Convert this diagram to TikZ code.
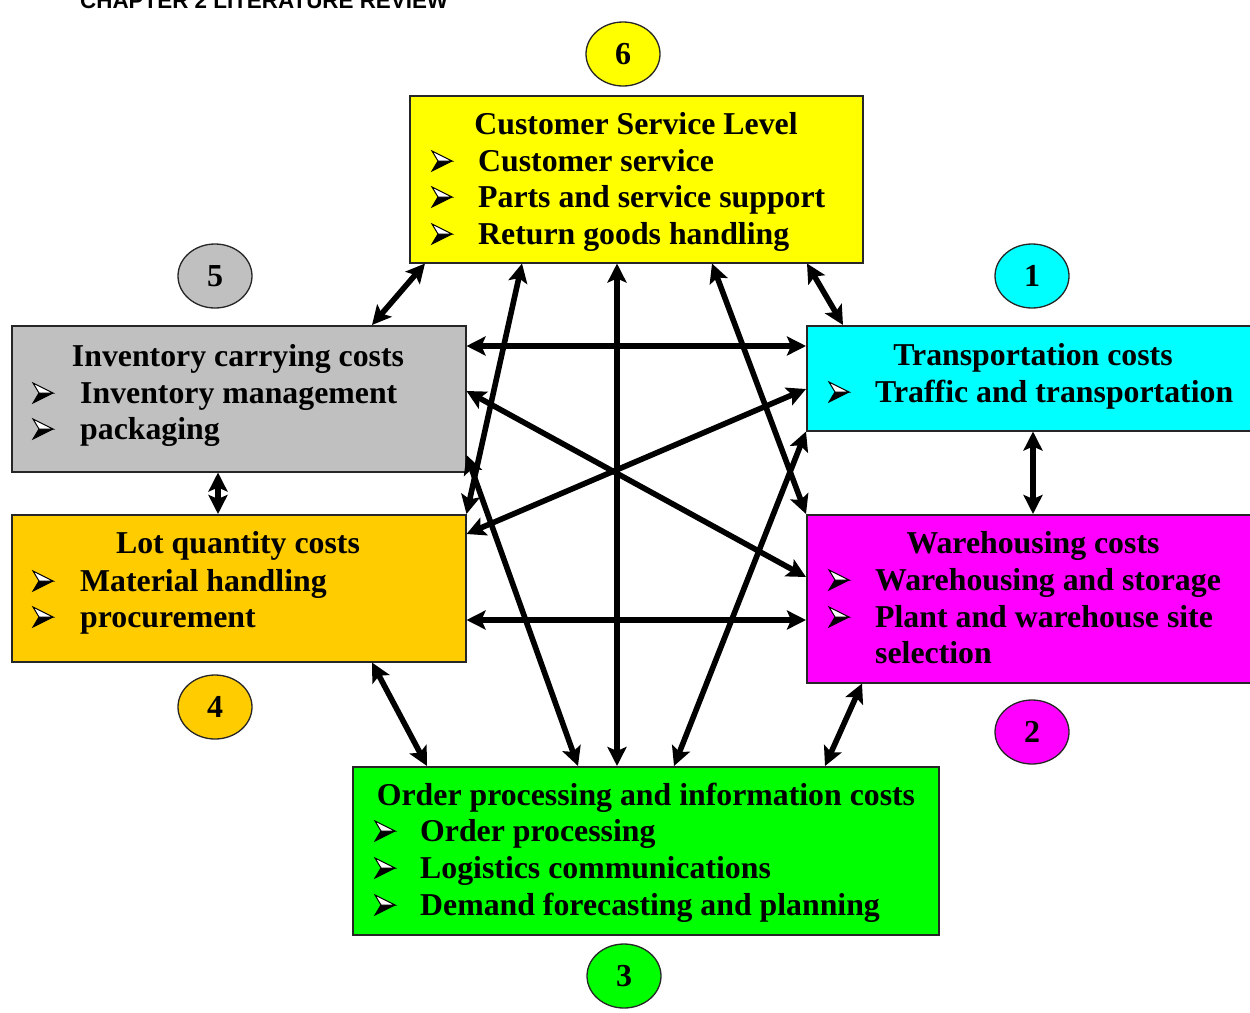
\documentclass[tikz,border=0pt]{standalone}
\usepackage{fontspec}
\setmainfont{Liberation Serif}
\newfontfamily\headfont{Liberation Sans}
\usetikzlibrary{arrows.meta,calc,shapes.geometric}

\definecolor{cslyellow}{HTML}{FFFF00}
\definecolor{invgray}{HTML}{C0C0C0}
\definecolor{trncyan}{HTML}{00FFFF}
\definecolor{lotorange}{HTML}{FFCC00}
\definecolor{whmagenta}{HTML}{FF00FF}
\definecolor{ordgreen}{HTML}{00FF00}

\tikzset{
  box/.style={draw=black!85, line width=1.5pt, rectangle, inner sep=0pt, anchor=north west},
  num/.style={draw=black!85, line width=1.3pt, ellipse, minimum width=74pt, minimum height=64pt,
              inner sep=0pt, font=\fontsize{32}{34}\selectfont\bfseries},
  title/.style={anchor=base, inner sep=0pt, font=\fontsize{31.8}{37}\selectfont\bfseries},
  item/.style={anchor=base west, inner sep=0pt, font=\fontsize{31.8}{37}\selectfont\bfseries},
  dbl/.style={line width=5.6pt,
    {Stealth[length=19pt,width=19pt,inset=4pt]}-{Stealth[length=19pt,width=19pt,inset=4pt]}},
  bul/.pic={
    \fill[black] (6,0) -- (20,0) -- (0,10) -- cycle;
    \draw[line width=1pt, fill=white, line join=miter] (0,-10) -- (20,0) -- (6,0) -- cycle;
    \draw[line width=1pt, line join=miter] (6,0) -- (0,10) -- (20,0);
  }
}

\begin{document}
\begin{tikzpicture}[x=1pt, y=-1pt]
\path[use as bounding box] (0,0) rectangle (1250,1012);
\clip (0,0) rectangle (1250,1012);

% running page header, cut at the top edge
\node[anchor=base west, inner sep=0pt, font=\headfont\fontsize{22.4}{24}\selectfont\bfseries] (head) at (80,8)
  {CHAPTER 2 LITERATURE REVIEW};

% cost boxes
\node[box, fill=cslyellow, minimum width=453pt, minimum height=167pt] (csl) at (409,95) {};
\node[box, fill=invgray, minimum width=454pt, minimum height=146pt] (inv) at (11,325) {};
\node[box, fill=lotorange, minimum width=454pt, minimum height=147pt] (lot) at (11,514) {};
\node[box, fill=trncyan, minimum width=454pt, minimum height=105pt] (trn) at (806,325) {};
\node[box, fill=whmagenta, minimum width=454pt, minimum height=168pt] (wh) at (806,514) {};
\node[box, fill=ordgreen, minimum width=586pt, minimum height=168pt] (ord) at (352,766) {};

% numbered ellipses
\node[num, fill=trncyan] (c1) at (1032,276) {1};
\node[num, fill=whmagenta] (c2) at (1032,732) {2};
\node[num, fill=ordgreen] (c3) at (624,976) {3};
\node[num, fill=lotorange] (c4) at (215,707) {4};
\node[num, fill=invgray] (c5) at (215,276) {5};
\node[num, fill=cslyellow] (c6) at (623,54) {6};

% box texts: customer service level
\node[title] (cslt) at (636,134) {Customer Service Level};
\pic at (432,161) {bul};
\node[item] (csl1) at (478,171) {Customer service};
\pic at (432,197) {bul};
\node[item] (csl2) at (478,207) {Parts and service support};
\pic at (432,234) {bul};
\node[item] (csl3) at (478,244) {Return goods handling};

% inventory carrying costs
\node[title] (invt) at (238,366) {Inventory carrying costs};
\pic at (33,393) {bul};
\node[item] (inv1) at (80,403) {Inventory management};
\pic at (33,429) {bul};
\node[item] (inv2) at (80,439) {packaging};

% lot quantity costs
\node[title] (lott) at (238,553) {Lot quantity costs};
\pic at (33,581) {bul};
\node[item] (lot1) at (80,591) {Material handling};
\pic at (33,617) {bul};
\node[item] (lot2) at (80,627) {procurement};

% transportation costs
\node[title] (trnt) at (1033,365) {Transportation costs};
\pic at (829,392) {bul};
\node[item] (trn1) at (875,402) {Traffic and transportation};

% warehousing costs
\node[title] (wht) at (1033,553) {Warehousing costs};
\pic at (829,580) {bul};
\node[item] (wh1) at (875,590) {Warehousing and storage};
\pic at (829,617) {bul};
\node[item] (wh2) at (875,627) {Plant and warehouse site};
\node[item] (wh3) at (875,663) {selection};

% order processing and information costs
\node[title] (ordt) at (646,805) {Order processing and information costs};
\pic at (375,831) {bul};
\node[item] (ord1) at (420,841) {Order processing};
\pic at (375,868) {bul};
\node[item] (ord2) at (420,878) {Logistics communications};
\pic at (375,905) {bul};
\node[item] (ord3) at (420,915) {Demand forecasting and planning};

% two-way links between the cost areas
\draw[dbl] ($(csl.south west)+(16,0)$) -- ($(inv.north west)+(361,0)$);
\draw[dbl] ($(csl.south west)+(113,0)$) -- (lot.north east);
\draw[dbl] ($(csl.south west)+(208,0)$) -- ($(ord.north west)+(265,0)$);
\draw[dbl] ($(csl.south west)+(303,0)$) -- (wh.north west);
\draw[dbl] ($(csl.south west)+(398,0)$) -- ($(trn.north west)+(37,0)$);
\draw[dbl] ($(inv.north east)+(0,21)$) -- ($(trn.north west)+(0,21)$);
\draw[dbl] ($(inv.north east)+(0,66)$) -- ($(wh.north west)+(0,63)$);
\draw[dbl] ($(inv.north east)+(0,130)$) -- ($(ord.north west)+(226,0)$);
\draw[dbl] ($(lot.north east)+(0,20)$) -- ($(trn.north west)+(0,64)$);
\draw[dbl] ($(lot.north east)+(0,106)$) -- ($(wh.north west)+(0,106)$);
\draw[dbl] (trn.south west) -- ($(ord.north west)+(322,0)$);
\draw[dbl] ($(inv.south west)+(207,0)$) -- ($(lot.north west)+(207,0)$);
\draw[dbl] ($(trn.south west)+(227,0)$) -- ($(wh.north west)+(227,0)$);
\draw[dbl] ($(lot.south west)+(361,0)$) -- ($(ord.north west)+(75,0)$);
\draw[dbl] ($(wh.south west)+(56,0)$) -- ($(ord.north west)+(473,0)$);
\end{tikzpicture}
\end{document}
